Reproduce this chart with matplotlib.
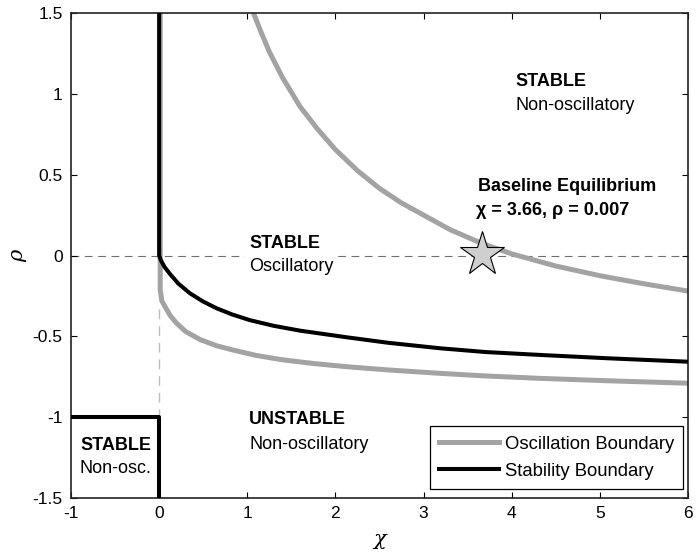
import matplotlib
matplotlib.use("Agg")
import matplotlib.pyplot as plt
from matplotlib.lines import Line2D

# Oscillation boundary: upper branch (rho > 0 region)
osc_upper_x = [1.07, 1.15, 1.25, 1.40, 1.60, 1.80, 2.00, 2.25, 2.50, 2.75, 3.00,
               3.30, 3.66, 4.00, 4.50, 5.00, 5.50, 6.00]
osc_upper_y = [1.50, 1.39, 1.26, 1.10, 0.92, 0.78, 0.655, 0.525, 0.415, 0.325, 0.25,
               0.16, 0.075, 0.01, -0.065, -0.125, -0.175, -0.22]

# Oscillation boundary: vertical part along chi = 0 and lower branch
osc_lower_x = [0.012, 0.012, 0.03, 0.067, 0.13, 0.20, 0.30, 0.464, 0.65, 0.84, 1.10,
               1.41, 1.75, 2.13, 2.60, 3.19, 3.70, 4.32, 5.10, 6.00]
osc_lower_y = [1.50, -0.21, -0.28, -0.317, -0.375, -0.42, -0.47, -0.52, -0.558, -0.585,
               -0.618, -0.646, -0.668, -0.688, -0.708, -0.729, -0.745, -0.76, -0.775, -0.79]

# Stability boundary
stab_x = [0.0, 0.0, 0.02, 0.06, 0.124, 0.22, 0.35, 0.50, 0.654, 0.83, 1.03, 1.30, 1.60,
          2.13, 2.60, 3.19, 3.70, 4.32, 5.10, 6.00]
stab_y = [1.50, 0.0, -0.03, -0.07, -0.115, -0.175, -0.234, -0.285, -0.327, -0.365, -0.40,
          -0.435, -0.465, -0.506, -0.54, -0.574, -0.597, -0.615, -0.636, -0.657]

# Stability boundary around the lower-left corner region
corner_x = [-1.0, 0.0, 0.0]
corner_y = [-1.0, -1.0, -1.5]

# Baseline equilibrium point
base_chi = 3.66
base_rho = 0.007

xticks = [-1, 0, 1, 2, 3, 4, 5, 6]
xtick_labels = ["-1", "0", "1", "2", "3", "4", "5", "6"]
yticks = [-1.5, -1.0, -0.5, 0.0, 0.5, 1.0, 1.5]
ytick_labels = ["-1.5", "-1", "-0.5", "0", "0.5", "1", "1.5"]

plt.rcParams['font.family'] = ['Liberation Sans', 'DejaVu Sans']

fig = plt.figure(figsize=(6.98, 5.55), dpi=100)
ax = fig.add_axes([71 / 698, 1 - 498 / 555, 617 / 698, 485 / 555])

gray = '#a3a3a3'

# reference lines
ax.plot([-1, 6], [0, 0], color='#6e6e6e', lw=0.8, dashes=(7, 5), zorder=1)
ax.plot([0, 0], [-0.33, -1.0], color='#bdbdbd', lw=1.0, dashes=(7, 5), zorder=1)

ax.plot(osc_upper_x, osc_upper_y, color=gray, lw=3.6, solid_capstyle='butt', zorder=2)
ax.plot(osc_lower_x, osc_lower_y, color=gray, lw=3.6, solid_capstyle='butt', zorder=2)
ax.plot(stab_x, stab_y, color='black', lw=2.9, solid_capstyle='butt', zorder=3)
ax.plot(corner_x, corner_y, color='black', lw=2.9, solid_capstyle='butt', zorder=3)

ax.plot([base_chi], [base_rho], marker='*', ms=33, markerfacecolor='#cfcfcf',
        markeredgecolor='black', markeredgewidth=0.8, linestyle='none', zorder=6)

fs = 13

ax.text(4.04, 1.075, 'STABLE', fontsize=fs, fontweight='bold', va='center', ha='left')
ax.text(4.04, 0.93, 'Non-oscillatory', fontsize=fs, va='center', ha='left')

ax.text(3.62, 0.424, 'Baseline Equilibrium', fontsize=fs, fontweight='bold',
        va='center', ha='left', zorder=5)
ax.text(3.59, 0.28, '\u03c7 = 3.66, \u03c1 = 0.007', fontsize=fs, fontweight='bold',
        va='center', ha='left', zorder=5)

ax.text(1.02, 0.075, 'STABLE', fontsize=fs, fontweight='bold', va='center', ha='left',
        bbox=dict(facecolor='white', edgecolor='none', pad=3), zorder=4)
ax.text(1.02, -0.07, 'Oscillatory', fontsize=fs, va='center', ha='left',
        bbox=dict(facecolor='white', edgecolor='none', pad=3), zorder=4)

ax.text(1.02, -1.017, 'UNSTABLE', fontsize=fs, fontweight='bold', va='center', ha='left')
ax.text(1.02, -1.17, 'Non-oscillatory', fontsize=fs, va='center', ha='left')

ax.text(-0.898, -1.176, 'STABLE', fontsize=fs, fontweight='bold', va='center', ha='left')
ax.text(-0.898, -1.316, 'Non-osc.', fontsize=fs, va='center', ha='left')

ax.set_xlim(-1, 6)
ax.set_ylim(-1.5, 1.5)
ax.set_xticks(xticks)
ax.set_xticklabels(xtick_labels)
ax.set_yticks(yticks)
ax.set_yticklabels(ytick_labels)
ax.tick_params(direction='in', length=4, width=0.8, top=True, right=True,
               labelsize=12.5, pad=6)
for s in ax.spines.values():
    s.set_linewidth(1.2)
    s.set_color('#222222')

ax.set_xlabel('\u03c7', fontsize=15, family='DejaVu Serif', style='italic', labelpad=6)
ax.set_ylabel('\u03c1', fontsize=15, family='DejaVu Serif', style='italic', labelpad=4)

handles = [Line2D([], [], color=gray, lw=3.6), Line2D([], [], color='black', lw=2.9)]
leg = ax.legend(handles, ['Oscillation Boundary', 'Stability Boundary'],
                loc='lower right', bbox_to_anchor=(0.992, 0.0186), fontsize=13.3,
                fancybox=False, framealpha=1, edgecolor='black',
                handlelength=3.25, handletextpad=0.3, labelspacing=0.55,
                borderpad=0.5, borderaxespad=0.0)
leg.get_frame().set_linewidth(0.9)

fig.savefig('out.png', dpi=100)
